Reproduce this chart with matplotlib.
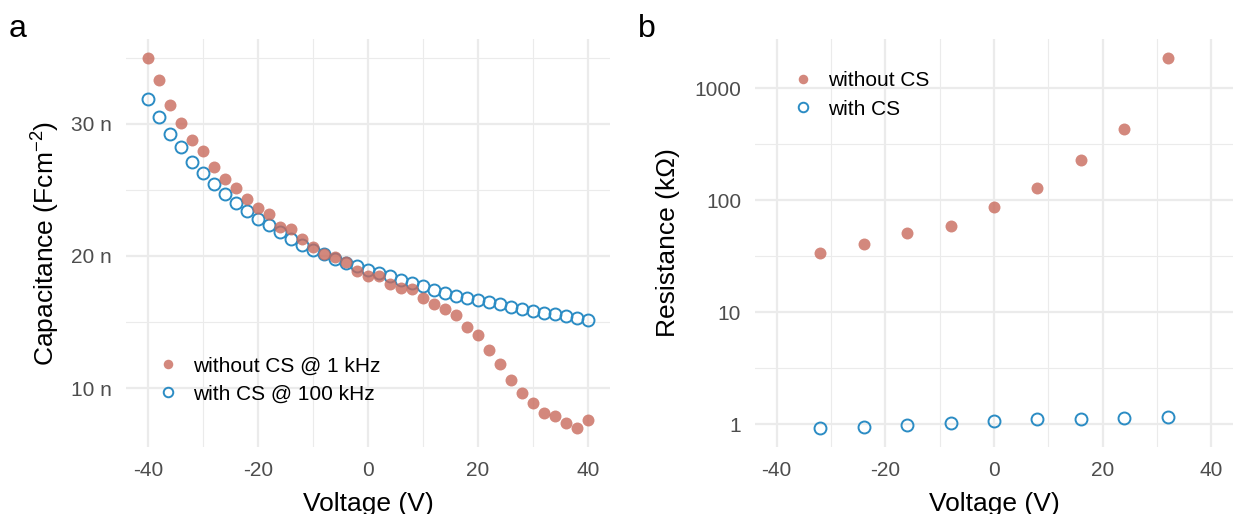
import matplotlib
matplotlib.use('Agg')
import matplotlib.pyplot as plt
from matplotlib.ticker import FixedLocator, NullFormatter

plt.rcParams['font.family'] = ['Liberation Sans', 'DejaVu Sans']
plt.rcParams['mathtext.default'] = 'regular'
plt.rcParams['axes.unicode_minus'] = False

# panel a: capacitance vs voltage (nF/cm^2)
volt_a = list(range(-40, 41, 2))
cap_without = [35.0, 33.3, 31.4, 30.05, 28.8, 27.9, 26.7, 25.8, 25.1, 24.3,
               23.6, 23.2, 22.2, 22.0, 21.3, 20.65, 20.15, 19.9, 19.5, 18.85,
               18.5, 18.5, 17.85, 17.55, 17.5, 16.85, 16.35, 16.0, 15.5, 14.65,
               14.0, 12.9, 11.8, 10.6, 9.6, 8.9, 8.1, 7.9, 7.4, 6.95, 7.6]
cap_with = [31.9, 30.5, 29.2, 28.2, 27.1, 26.3, 25.45, 24.7, 24.0, 23.4,
            22.8, 22.3, 21.8, 21.3, 20.85, 20.45, 20.15, 19.75, 19.45, 19.2,
            18.95, 18.7, 18.45, 18.2, 17.95, 17.7, 17.4, 17.2, 17.0, 16.85,
            16.65, 16.5, 16.35, 16.15, 16.0, 15.85, 15.65, 15.6, 15.45, 15.3, 15.15]

# panel b: resistance vs voltage (kOhm)
volt_b = [-32, -24, -16, -8, 0, 8, 16, 24, 32]
res_without = [34.0, 40.6, 50.6, 58.9, 87.5, 127.6, 228.5, 432, 1876]
res_with = [0.915, 0.947, 0.98, 1.03, 1.06, 1.10, 1.12, 1.14, 1.15]

red = '#C86A5C'
blue = '#2B8CC4'
grid_c = '#EBEBEB'
tick_c = '#4D4D4D'

fig = plt.figure(figsize=(12.34, 5.14), dpi=100)
ax1 = fig.add_axes([0.1021, 0.1304, 0.3922, 0.7937])
ax2 = fig.add_axes([0.6118, 0.1304, 0.3874, 0.7937])

def style(ax):
    for s in ax.spines.values():
        s.set_visible(False)
    ax.tick_params(which='both', length=0, labelsize=15, labelcolor=tick_c)
    ax.tick_params(axis='y', pad=10)
    ax.tick_params(axis='x', pad=10)
    ax.grid(which='major', color=grid_c, lw=1.6)
    ax.grid(which='minor', color=grid_c, lw=0.8)
    ax.set_axisbelow(True)
    ax.set_xlim(-44, 44)
    ax.set_xticks([-40, -20, 0, 20, 40])
    ax.xaxis.set_minor_locator(FixedLocator([-30, -10, 10, 30]))

leg_kw = dict(loc='center left', frameon=False, fontsize=15, markerscale=0.8,
              handlelength=1.0, handletextpad=0.7, borderpad=0, borderaxespad=0,
              labelspacing=0.45, bbox_transform=fig.transFigure)

# panel a
b1, = ax1.plot(volt_a, cap_with, 'o', ms=8.6, mfc='none', mec=blue, mew=1.4,
               label='with CS @ 100 kHz')
r1, = ax1.plot(volt_a, cap_without, 'o', ms=8.6, color=red, alpha=0.8, mew=0,
               label='without CS @ 1 kHz')
style(ax1)
ax1.set_ylim(5.55, 36.4)
ax1.set_yticks([10, 20, 30])
ax1.set_yticklabels(['10 n', '20 n', '30 n'])
ax1.yaxis.set_minor_locator(FixedLocator([15, 25, 35]))
ax1.set_xlabel('Voltage (V)', fontsize=19)
ax1.set_ylabel('Capacitance (Fcm$^{-2}$)', fontsize=19)
ax1.xaxis.set_label_coords(0.5, -0.11)
ax1.yaxis.set_label_coords(-0.132, 0.5)
ax1.legend(handles=[r1, b1], bbox_to_anchor=(157.6 / 1234, 1 - 380 / 514), **leg_kw)

# panel b
b2, = ax2.plot(volt_b, res_with, 'o', ms=8.6, mfc='none', mec=blue, mew=1.4,
               label='with CS')
r2, = ax2.plot(volt_b, res_without, 'o', ms=8.6, color=red, alpha=0.8, mew=0,
               label='without CS')
ax2.set_yscale('log')
style(ax2)
ax2.set_ylim(10 ** -0.204, 10 ** 3.439)
ax2.yaxis.set_major_locator(FixedLocator([1, 10, 100, 1000]))
ax2.set_yticklabels(['1', '10', '100', '1000'])
ax2.yaxis.set_minor_locator(FixedLocator([10 ** 0.5, 10 ** 1.5, 10 ** 2.5]))
ax2.yaxis.set_minor_formatter(NullFormatter())
ax2.set_xlabel('Voltage (V)', fontsize=19)
ax2.set_ylabel('Resistance (k\u03a9)', fontsize=19)
ax2.xaxis.set_label_coords(0.5, -0.11)
ax2.yaxis.set_label_coords(-0.157, 0.5)
ax2.legend(handles=[r2, b2], bbox_to_anchor=(792.6 / 1234, 1 - 95 / 514), **leg_kw)

fig.text(9 / 1234, 1 - 37 / 514, 'a', fontsize=23, va='baseline')
fig.text(638 / 1234, 1 - 37 / 514, 'b', fontsize=23, va='baseline')

plt.savefig('out.png', dpi=100)
